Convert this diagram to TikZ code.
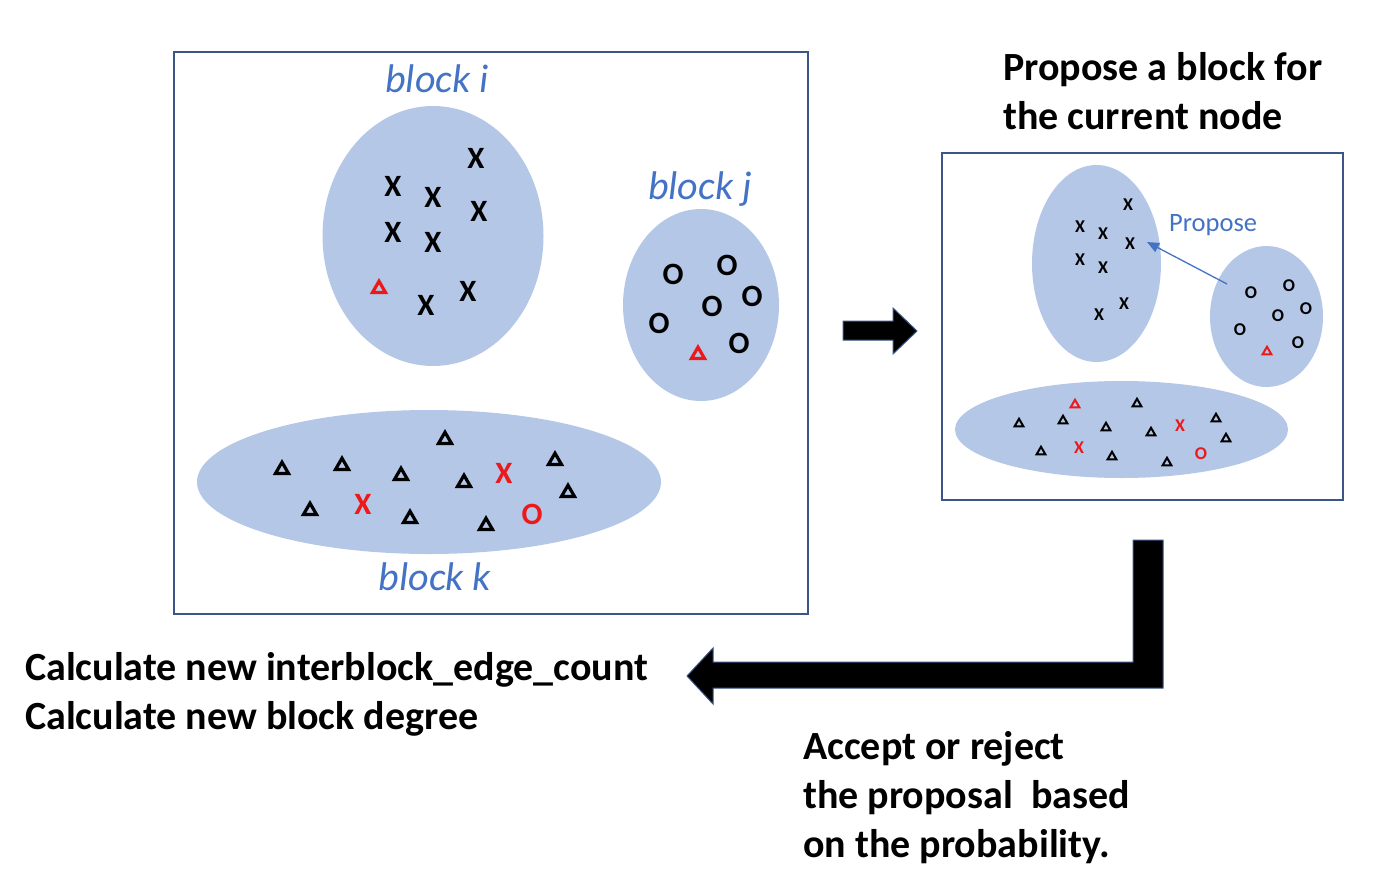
\documentclass[tikz,border=0pt]{standalone}
\usepackage{fontspec}
\setmainfont{Carlito}
\usetikzlibrary{shapes.geometric,arrows.meta}
\definecolor{blockfill}{HTML}{B4C7E7}
\definecolor{frameblue}{RGB}{60,85,135}
\definecolor{labelblue}{HTML}{4472C4}
\definecolor{markred}{RGB}{235,25,25}
\begin{document}
\begin{tikzpicture}[x=1pt,y=-1pt,
  frame/.style={draw=frameblue,line width=2pt,inner sep=0,fill=none},
  blob/.style={ellipse,fill=blockfill,inner sep=0},
  bigmark/.style={font=\fontsize{31}{31}\selectfont\bfseries,inner sep=0},
  smallmark/.style={font=\fontsize{18}{18}\selectfont\bfseries,inner sep=0},
  bigtri/.style={regular polygon,regular polygon sides=3,draw=black,line width=3.2pt,minimum size=15pt,inner sep=0,yshift=-2.7pt},
  smalltri/.style={regular polygon,regular polygon sides=3,draw=black,line width=2pt,minimum size=10pt,inner sep=0,yshift=-1.75pt},
  redtri/.style={draw=markred},
  redtext/.style={text=markred},
  blocklabel/.style={font=\fontsize{40}{40}\selectfont\itshape,text=labelblue,inner sep=0,anchor=base},
  steptext/.style={font=\fontsize{40}{49}\selectfont\bfseries,align=left,inner sep=0,anchor=north west},
  blockarrow/.style={fill=black,draw=frameblue,line width=1pt}
]
\useasboundingbox (0,0) rectangle (1377,881);

% ---------- left frame ----------
\draw[frame] (174,52) rectangle (808,614);
\node[blob,minimum width=221pt,minimum height=260pt] (bi) at (433,236) {};
\node[blob,minimum width=156pt,minimum height=192pt] (bj) at (701,305) {};
\node[blob,minimum width=464pt,minimum height=144pt] (bk) at (429,482) {};
\node[blocklabel] (li) at (437,92) {block i};
\node[blocklabel] (lj) at (700,199) {block j};
\node[blocklabel] (lk) at (435,590) {block k};

% block i
\node[bigmark] (ix1) at (476,158) {X};
\node[bigmark] (ix2) at (393,186) {X};
\node[bigmark] (ix3) at (433,197) {X};
\node[bigmark] (ix4) at (479,211) {X};
\node[bigmark] (ix5) at (393,232) {X};
\node[bigmark] (ix6) at (433,242) {X};
\node[bigmark] (ix7) at (426,305) {X};
\node[bigmark] (ix8) at (468,291) {X};
\node[bigtri,redtri] (it) at (379,286) {};

% block j
\node[bigmark] (jo1) at (673,274) {O};
\node[bigmark] (jo2) at (727,265) {O};
\node[bigmark] (jo3) at (752,296) {O};
\node[bigmark] (jo4) at (712,306) {O};
\node[bigmark] (jo5) at (659,323) {O};
\node[bigmark] (jo6) at (739,343) {O};
\node[bigtri,redtri] (jt) at (698,352) {};

% block k
\node[bigtri] (kt1) at (282,467) {};
\node[bigtri] (kt2) at (342,463) {};
\node[bigtri] (kt3) at (445,437) {};
\node[bigtri] (kt4) at (401,473) {};
\node[bigtri] (kt5) at (464,480) {};
\node[bigtri] (kt6) at (555,458) {};
\node[bigtri] (kt7) at (568,490) {};
\node[bigtri] (kt8) at (310,508) {};
\node[bigtri] (kt9) at (410,516) {};
\node[bigtri] (kt10) at (486,523) {};
\node[bigmark,redtext] (kx1) at (363,504) {X};
\node[bigmark,redtext] (kx2) at (504,473) {X};
\node[bigmark,redtext] (ko1) at (532,514) {O};

% ---------- right arrow ----------
\draw[blockarrow] (843,321) -- (893,321) -- (893,308) -- (917,331) -- (893,354) -- (893,340) -- (843,340) -- cycle;

% ---------- right frame ----------
\node[steptext] (proposetext) at (1003,52) {Propose a block for\\the current node};
\draw[frame] (942,153) rectangle (1343,500);
\node[blob,minimum width=129pt,minimum height=197pt] (si) at (1096.5,263.5) {};
\node[blob,minimum width=113pt,minimum height=141pt] (sj) at (1266.5,316.5) {};
\node[blob,minimum width=333pt,minimum height=97pt] (sk) at (1121.5,429.5) {};

\node[smallmark] (sx1) at (1128,205) {X};
\node[smallmark] (sx2) at (1080,227) {X};
\node[smallmark] (sx3) at (1103,234) {X};
\node[smallmark] (sx4) at (1130,244) {X};
\node[smallmark] (sx5) at (1080,260) {X};
\node[smallmark] (sx6) at (1103,268) {X};
\node[smallmark] (sx7) at (1124,304) {X};
\node[smallmark] (sx8) at (1099,315) {X};

\node[smallmark] (so1) at (1251,293) {O};
\node[smallmark] (so2) at (1289,286) {O};
\node[smallmark] (so3) at (1306,309) {O};
\node[smallmark] (so4) at (1278,316) {O};
\node[smallmark] (so5) at (1240,330) {O};
\node[smallmark] (so6) at (1298,343) {O};
\node[smalltri,redtri] (sjt) at (1267,350) {};

\node[smalltri,redtri] (skr) at (1075,403) {};
\node[smalltri] (st1) at (1137,402) {};
\node[smalltri] (st2) at (1019,422) {};
\node[smalltri] (st3) at (1063,419) {};
\node[smalltri] (st4) at (1106,426) {};
\node[smalltri] (st5) at (1151,431) {};
\node[smalltri] (st6) at (1216,417) {};
\node[smalltri] (st7) at (1226,437) {};
\node[smalltri] (st8) at (1041,450) {};
\node[smalltri] (st9) at (1112,455) {};
\node[smalltri] (st10) at (1167,461) {};
\node[smallmark,redtext] (skx1) at (1180,426) {X};
\node[smallmark,redtext] (skx2) at (1079,448) {X};
\node[smallmark,redtext] (sko) at (1201,454) {O};

\node[font=\fontsize{26.5}{26.5}\selectfont,text=labelblue,inner sep=0,anchor=base west] (prop) at (1169,231) {Propose};
\coordinate (pstart) at (1227,284);
\coordinate (pend) at (1147,242);
\draw[labelblue,line width=1.3pt,-{Triangle[length=12pt,width=10pt]}] (pstart) -- (pend);

% ---------- bent arrow ----------
\draw[blockarrow] (1133,540) -- (1163,540) -- (1163,688) -- (713,688) -- (713,704) -- (687,676) -- (713,648) -- (713,662) -- (1133,662) -- cycle;

% ---------- texts ----------
\node[steptext] (calctext) at (25,652) {Calculate new interblock\_edge\_count\\Calculate new block degree};
\node[steptext] (accepttext) at (803,731) {Accept or reject\\the proposal\ \ based\\on the probability.};
\end{tikzpicture}
\end{document}
